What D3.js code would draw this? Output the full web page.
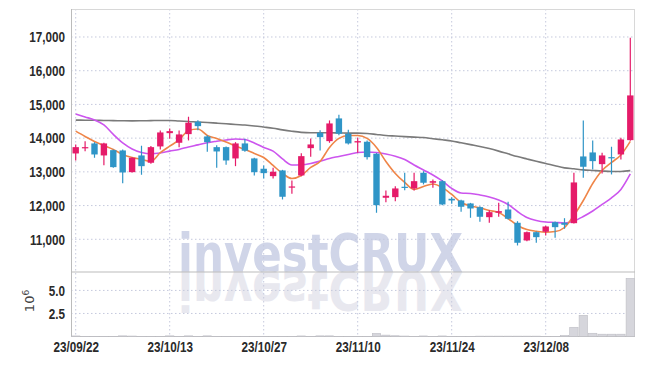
<!DOCTYPE html>
<html>
<head>
<meta charset="utf-8">
<script src="https://cdn.jsdelivr.net/npm/d3@7"></script>
<style>
  body { margin: 0; background: #fff; }
  svg { display: block; font-family: "DejaVu Sans", sans-serif; }
</style>
</head>
<body>
<svg width="645" height="366"></svg>
<script>
// trading days (yy/mm/dd)
const dates = [
  "23/09/22","23/09/25","23/09/26","23/09/27","23/10/04","23/10/05","23/10/06","23/10/10","23/10/11","23/10/12",
  "23/10/13","23/10/16","23/10/17","23/10/18","23/10/19","23/10/20","23/10/23","23/10/24","23/10/25","23/10/26",
  "23/10/27","23/10/30","23/10/31","23/11/01","23/11/02","23/11/03","23/11/06","23/11/07","23/11/08","23/11/09",
  "23/11/10","23/11/13","23/11/14","23/11/15","23/11/16","23/11/17","23/11/20","23/11/21","23/11/22","23/11/23",
  "23/11/24","23/11/27","23/11/28","23/11/29","23/11/30","23/12/01","23/12/04","23/12/05","23/12/06","23/12/07",
  "23/12/08","23/12/11","23/12/12","23/12/13","23/12/14","23/12/15","23/12/18","23/12/19","23/12/20","23/12/21"
];

const open  = [13546,13703,13843,13487,13644,13635,12991,13487,13270,13754,
               14148,13863,14119,14487,14050,13733,13733,13398,13843,13398,
               13092,12873,13042,12537,12893,13703,14160,13911,14585,14131,
               13872,13893,13537,12232,12250,12558,12508,12973,12677,12724,
               12202,12152,12063,11953,11656,11787,11884,11490,10965,11211,
               11223,11508,11490,11478,13457,13576,13229,13436,13516,13941];
const high  = [13813,13911,13881,13860,13660,13660,13430,13775,13770,14228,
               14288,14228,14635,14530,14089,13790,13750,13881,13982,13420,
               13190,13122,13060,12745,13555,13991,14237,14525,14694,14249,
               14012,13930,13560,12448,12576,12973,12973,13020,12775,12750,
               12250,12170,12080,11983,11864,12083,12112,11537,11230,11230,
               11400,11530,11626,12973,14525,13932,13567,13745,14012,16979];
const low   = [13338,13614,13418,13199,13120,12665,12980,12914,13240,13665,
               13982,13733,13932,14237,13596,13122,13211,13169,13600,12893,
               12804,12804,12181,12350,12870,13448,13635,13863,14089,13810,
               13567,13368,11787,12101,12131,12457,12448,12627,12528,12010,
               12054,11816,11638,11520,11490,11668,11590,10817,10945,10897,
               11113,11045,11312,11470,12825,13071,12953,12923,13368,13920];
const close = [13733,13733,13516,13843,13140,12982,13418,13169,13733,14169,
               14208,14110,14457,14356,13881,13605,13338,13843,13626,12991,
               12962,13003,12261,12567,13466,13813,14030,14436,14131,13843,
               13911,13436,12012,12291,12508,12528,12724,12677,12724,12033,
               12152,11965,11914,11668,11805,11834,11609,10897,11211,11063,
               11380,11360,11430,12686,13151,13318,13487,13407,13961,15267];

// volume, millions of shares
const volume = [0.06,0.02,0.02,0.02,0.02,0.07,0.05,0.02,0.02,0.02,
                0.07,0.02,0.07,0.02,0.07,0.02,0.02,0.02,0.02,0.02,
                0.02,0.02,0.02,0.02,0.06,0.02,0.07,0.07,0.02,0.02,
                0.02,0.02,0.33,0.15,0.08,0.05,0.02,0.06,0.02,0.06,
                0.02,0.02,0.02,0.04,0.04,0.04,0.04,0.04,0.04,0.04,
                0.02,0.02,0.1,1.0,2.3,0.35,0.25,0.25,0.25,6.3];

// moving averages
const ma5  = [14208,14050,13900,13780,13665,13516,13427,13368,13309,13567,
              13763,13947,14228,14273,14080,13991,13887,13769,13665,13546,
              13427,13190,12953,12804,12893,13130,13309,13724,13991,14080,
              14080,13991,13724,13309,12953,12686,12478,12567,12641,12537,
              12330,12092,11988,11935,11855,11795,11617,11410,11290,11240,
              11210,11230,11350,11706,12150,12656,13042,13279,13502,13902];
const ma20 = [14718,14629,14540,14392,14110,13858,13680,13576,13537,13561,
              13614,13665,13740,13800,13864,13908,13947,13976,13961,13858,
              13724,13614,13383,13205,13211,13250,13318,13398,13457,13516,
              13576,13590,13576,13531,13466,13368,13205,13057,12908,12730,
              12508,12374,12360,12315,12255,12166,12033,11825,11647,11558,
              11513,11500,11484,11543,11677,11840,12033,12226,12478,12938];
const ma120 = [14534,14532,14530,14525,14520,14515,14512,14515,14520,14525,
               14525,14507,14495,14477,14463,14445,14427,14406,14388,14362,
               14329,14294,14246,14205,14172,14160,14160,14160,14155,14150,
               14148,14139,14110,14080,14062,14044,14030,14018,13982,13950,
               13917,13861,13807,13754,13690,13615,13534,13454,13383,13314,
               13250,13181,13119,13090,13060,13042,13024,13012,13012,13036];

const priceTicks = [11000,12000,13000,14000,15000,16000,17000];
const volTicks = [2.5,5.0];
const dateTicks = ["23/09/22","23/10/13","23/10/27","23/11/10","23/11/24","23/12/08"];

const candles = dates.map((d,i) => ({date: d, o: open[i], h: high[i], l: low[i], c: close[i], v: volume[i]}));

const svg = d3.select("svg");
const plotL = 71, plotR = 635, plotT = 9, plotMid = 272, plotB = 336.5;

const x = d3.scalePoint().domain(dates).range([plotL, plotR]).padding(0.5);
const step = x.step();
const y = d3.scaleLinear().domain([10030, 17830]).range([plotMid, plotT]);
const yv = d3.scaleLinear().domain([0, 7]).range([plotB, plotMid]);

const gridColor = "#c5c9dd";

// watermark with its reflection
const wm = svg.append("g").attr("font-weight", "bold");
wm.append("text").attr("x", 178).attr("y", 272).attr("font-size", 54)
  .attr("textLength", 285).attr("lengthAdjust", "spacingAndGlyphs")
  .attr("fill", "#d0d5e8").text("investCRUX");
wm.append("text").attr("x", 178).attr("y", -272).attr("transform", "scale(1,-1)").attr("font-size", 54)
  .attr("textLength", 285).attr("lengthAdjust", "spacingAndGlyphs")
  .attr("fill", "#e8e8ef").text("investCRUX");

// grid lines
svg.append("g").selectAll("line").data(priceTicks).join("line")
  .attr("x1", plotL).attr("x2", plotR).attr("y1", d => y(d)).attr("y2", d => y(d))
  .attr("stroke", gridColor).attr("stroke-dasharray", "1.5,2.5");
svg.append("g").selectAll("line").data(volTicks).join("line")
  .attr("x1", plotL).attr("x2", plotR).attr("y1", d => yv(d)).attr("y2", d => yv(d))
  .attr("stroke", gridColor).attr("stroke-dasharray", "1.5,2.5");
svg.append("g").selectAll("line").data(dateTicks).join("line")
  .attr("x1", d => x(d)).attr("x2", d => x(d)).attr("y1", plotT).attr("y2", plotB)
  .attr("stroke", gridColor).attr("stroke-dasharray", "1.5,2.5");

// frame
svg.append("line").attr("x1", plotL).attr("x2", plotR).attr("y1", plotT + 0.5).attr("y2", plotT + 0.5).attr("stroke", "#d8d8d8");
svg.append("line").attr("x1", plotR - 0.5).attr("x2", plotR - 0.5).attr("y1", plotT).attr("y2", plotB).attr("stroke", "#d8d8d8");
svg.append("line").attr("x1", plotL).attr("x2", plotR).attr("y1", plotMid).attr("y2", plotMid).attr("stroke", "#bbbbbb");
svg.append("line").attr("x1", plotL).attr("x2", plotR).attr("y1", plotB).attr("y2", plotB).attr("stroke", "#bbbbbb");
svg.append("line").attr("x1", plotL + 0.5).attr("x2", plotL + 0.5).attr("y1", plotT).attr("y2", plotB).attr("stroke", "#bbbbbb");

// volume bars
svg.append("g").selectAll("rect").data(candles).join("rect")
  .attr("x", d => x(d.date) - step / 2 + 0.5)
  .attr("width", step - 1)
  .attr("y", d => yv(d.v))
  .attr("height", d => yv(0) - yv(d.v))
  .attr("fill", "#d6d6dc").attr("stroke", "#bdbdc4").attr("stroke-width", 0.6);

// moving averages
const line = d3.line().x((d, i) => x(dates[i])).y(d => y(d)).curve(d3.curveMonotoneX);
[[ma120, "#7a7a7a"], [ma20, "#cc55ee"], [ma5, "#ef8548"]].forEach(([s, col]) => {
  svg.append("path").datum(s).attr("d", line).attr("fill", "none")
    .attr("stroke", col).attr("stroke-width", 1.6);
});

// candles
const up = "#e51b69", down = "#2f95c7";
const cw = step * 0.68;
const cg = svg.append("g").selectAll("g").data(candles).join("g");
cg.append("line")
  .attr("x1", d => x(d.date)).attr("x2", d => x(d.date))
  .attr("y1", d => y(d.h)).attr("y2", d => y(d.l))
  .attr("stroke", d => d.c >= d.o ? up : down).attr("stroke-width", 1.2);
cg.append("rect")
  .attr("x", d => x(d.date) - cw / 2).attr("width", cw)
  .attr("y", d => y(Math.max(d.o, d.c)))
  .attr("height", d => Math.max(1.2, Math.abs(y(d.o) - y(d.c))))
  .attr("fill", d => d.c >= d.o ? up : down);

// axes labels (squeezed horizontally to mimic the condensed face)
const squeeze = 0.78;
const axisY = svg.append("g").attr("transform", `translate(${plotL},0)`)
  .call(d3.axisLeft(y).tickValues(priceTicks).tickSize(0).tickPadding(0).tickFormat(d3.format(",")));
const axisV = svg.append("g").attr("transform", `translate(${plotL},0)`)
  .call(d3.axisLeft(yv).tickValues(volTicks).tickSize(0).tickPadding(0).tickFormat(d3.format(".1f")));
const axisX = svg.append("g").attr("transform", `translate(0,${plotB})`)
  .call(d3.axisBottom(x).tickValues(dateTicks).tickSize(0).tickPadding(5));
[axisY, axisV].forEach(a => a.selectAll("text").attr("x", -6 / squeeze));
[axisY, axisV, axisX].forEach(a => {
  a.select(".domain").remove();
  a.selectAll("text").attr("font-family", null).attr("font-weight", "bold")
    .attr("font-size", 15).attr("fill", "#2a2a2a")
    .attr("transform", `scale(${squeeze},1)`);
});

// volume unit
svg.append("text").attr("transform", "translate(34,301) rotate(-90)")
  .attr("text-anchor", "middle").attr("font-size", 13).attr("fill", "#444")
  .html('10<tspan dy="-5" font-size="9">6</tspan>');
</script>
</body>
</html>
